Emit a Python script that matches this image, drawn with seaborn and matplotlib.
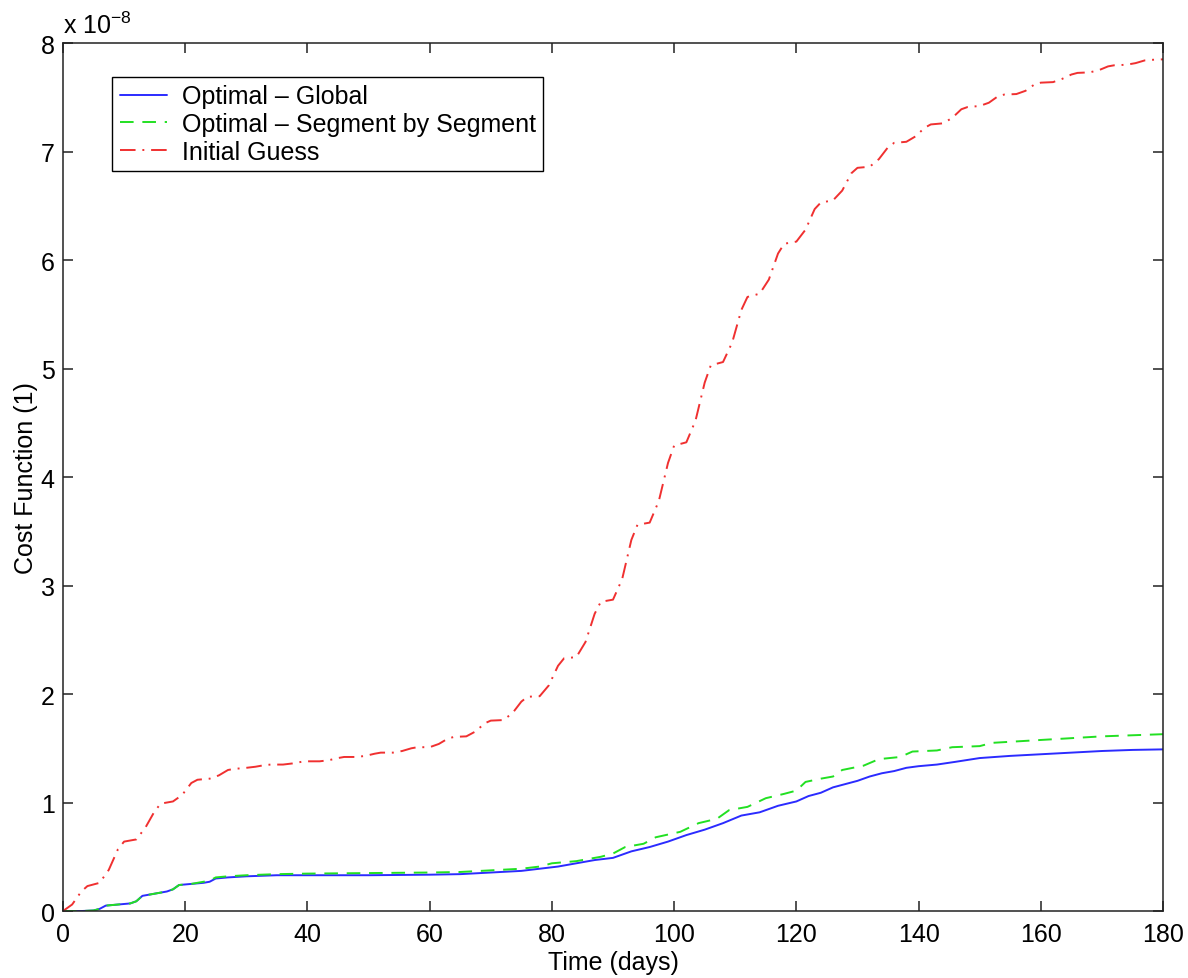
import matplotlib
matplotlib.use("Agg")
import matplotlib.pyplot as plt
import seaborn as sns
import numpy as np
import pandas as pd

# ---- data (cost function in units of 1e-8) ----
days_initial = [0, 1.5, 3, 4, 6, 7.5, 9, 10, 12, 13.5, 15, 16, 18, 19.5, 21, 22, 24,
                25.5, 27, 28, 30, 31.5, 33, 34, 36, 37.5, 39, 40, 42, 43.5, 45, 46, 48,
                49.5, 51, 52, 54, 55.5, 57, 58, 60, 61.5, 63, 64, 66, 67.5, 69, 70, 72,
                73.5, 75, 76, 78, 79.5, 81, 82, 84, 85.5, 87, 88, 90, 91.5, 93, 94, 96,
                97.5, 99, 100, 102, 103.5, 105, 106, 108, 109.5, 111, 112, 114, 115.5,
                117, 118, 120, 121.5, 123, 124, 126, 127.5, 129, 130, 132, 133.5, 135,
                136, 138, 139.5, 141, 142, 144, 145.5, 147, 148, 150, 151.5, 153, 154,
                156, 157.5, 159, 160, 162, 163.5, 165, 166, 168, 169.5, 171, 172, 174,
                175.5, 177, 178, 180]
cost_initial = [0.0, 0.06, 0.18, 0.23, 0.26, 0.38, 0.57, 0.64, 0.66, 0.77, 0.92, 0.99, 1.01,
                1.07, 1.18, 1.21, 1.22, 1.25, 1.30, 1.31, 1.32, 1.33, 1.345, 1.35, 1.35,
                1.36, 1.375, 1.38, 1.38, 1.39, 1.41, 1.42, 1.42, 1.43, 1.45, 1.46, 1.46,
                1.475, 1.50, 1.51, 1.51, 1.54, 1.59, 1.605, 1.61, 1.655, 1.73, 1.755, 1.76,
                1.82, 1.93, 1.975, 1.98, 2.08, 2.26, 2.33, 2.34, 2.48, 2.74, 2.85, 2.87,
                3.06, 3.42, 3.56, 3.58, 3.78, 4.13, 4.29, 4.32, 4.52, 4.87, 5.03, 5.06,
                5.24, 5.54, 5.66, 5.69, 5.82, 6.06, 6.15, 6.17, 6.28, 6.47, 6.53, 6.55,
                6.64, 6.80, 6.85, 6.86, 6.93, 7.04, 7.08, 7.09, 7.14, 7.22, 7.25, 7.26,
                7.31, 7.39, 7.41, 7.42, 7.45, 7.51, 7.525, 7.53, 7.56, 7.62, 7.635, 7.64,
                7.67, 7.71, 7.725, 7.73, 7.75, 7.785, 7.795, 7.80, 7.815, 7.84, 7.845, 7.85]

days_global = [0, 3, 5, 6, 7, 9, 11, 12, 13, 15, 17, 18, 19, 21, 23, 24, 25, 27, 30, 35,
               40, 50, 60, 65, 70, 75, 78, 81, 84, 87, 90, 93, 96, 99, 102, 105, 108, 111,
               114, 117, 120, 122, 124, 126, 128, 130, 132, 134, 136, 138, 140, 143, 146,
               150, 155, 160, 165, 170, 175, 180]
cost_global = [0.0, 0.0, 0.005, 0.02, 0.05, 0.06, 0.07, 0.09, 0.14, 0.16, 0.18, 0.20, 0.24,
               0.25, 0.26, 0.27, 0.30, 0.31, 0.32, 0.33, 0.33, 0.33, 0.335, 0.34, 0.355,
               0.37, 0.39, 0.41, 0.44, 0.47, 0.49, 0.55, 0.59, 0.64, 0.70, 0.75, 0.81,
               0.88, 0.91, 0.97, 1.01, 1.06, 1.09, 1.14, 1.17, 1.20, 1.24, 1.27, 1.29,
               1.32, 1.335, 1.35, 1.375, 1.41, 1.43, 1.445, 1.46, 1.475, 1.485, 1.49]

days_segment = [0, 3, 5, 6, 7, 9, 11, 12, 13, 15, 17, 18, 19, 21, 23, 24, 25, 27, 30, 35,
                40, 50, 60, 65, 70, 75, 78, 80, 84, 88, 90, 92, 95, 97, 101, 104, 107,
                109, 112, 115, 118, 120, 121.5, 124, 126, 127.5, 131, 133.5, 137, 139,
                143, 145.5, 150, 152, 158, 164, 170, 180]
cost_segment = [0.0, 0.0, 0.005, 0.02, 0.05, 0.06, 0.07, 0.09, 0.14, 0.16, 0.18, 0.20, 0.24,
                0.25, 0.27, 0.28, 0.31, 0.32, 0.33, 0.34, 0.345, 0.35, 0.355, 0.36, 0.375,
                0.39, 0.41, 0.44, 0.46, 0.50, 0.53, 0.59, 0.62, 0.68, 0.73, 0.81, 0.85,
                0.93, 0.96, 1.04, 1.08, 1.11, 1.19, 1.22, 1.24, 1.30, 1.34, 1.40, 1.42,
                1.47, 1.48, 1.51, 1.52, 1.55, 1.57, 1.59, 1.61, 1.63]

labels = ["Optimal \u2013 Global", "Optimal \u2013 Segment by Segment", "Initial Guess"]
x_ticks = [0, 20, 40, 60, 80, 100, 120, 140, 160, 180]
y_ticks = [0, 1, 2, 3, 4, 5, 6, 7, 8]

FS = 18

# ---- style ----
sns.set_theme(style="ticks")
plt.rcParams["font.family"] = ["Liberation Sans", "DejaVu Sans"]
plt.rcParams["axes.edgecolor"] = "#222222"
plt.rcParams["axes.linewidth"] = 1.1
plt.rcParams["text.color"] = "black"
plt.rcParams["axes.labelcolor"] = "black"

fig = plt.figure(figsize=(11.88, 9.79), dpi=100)
ax = fig.add_axes([0.053, 0.0684, 0.926, 0.8866])

sns.lineplot(x=days_global, y=cost_global, ax=ax, color="#2b2bff", lw=1.4,
             label=labels[0], estimator=None, sort=False)
sns.lineplot(x=days_segment, y=cost_segment, ax=ax, color="#22e022", lw=1.4,
             linestyle=(0, (7, 4.5)), label=labels[1], estimator=None, sort=False)
sns.lineplot(x=days_initial, y=cost_initial, ax=ax, color="#f03030", lw=1.4,
             linestyle=(0, (8, 3.5, 1, 3.5)), label=labels[2], estimator=None, sort=False)

ax.set_xlim(0, 180)
ax.set_ylim(0, 8)
ax.set_xticks(x_ticks)
ax.set_yticks(y_ticks)
ax.tick_params(direction="in", length=7, width=1.1, top=True, right=True,
               labelsize=FS, color="#222222", labelcolor="black")
ax.tick_params(axis="x", pad=8)
ax.tick_params(axis="y", pad=6)
for s in ax.spines.values():
    s.set_visible(True)

ax.set_xlabel("Time (days)", fontsize=FS, labelpad=3)
ax.set_ylabel("Cost Function (1)", fontsize=FS, labelpad=2)
ax.text(0.0, 1.006, "x 10$^{\\mathregular{-8}}$", transform=ax.transAxes, fontsize=FS,
        ha="left", va="bottom")

leg = ax.legend(loc="upper left", bbox_to_anchor=(0.045, 0.961), borderaxespad=0,
                fontsize=FS, frameon=True, fancybox=False, edgecolor="black",
                framealpha=1, handlelength=1.9, handletextpad=0.58,
                labelspacing=0.15, borderpad=0.3)
leg.get_frame().set_linewidth(1.0)

fig.savefig("out.png", dpi=100)
